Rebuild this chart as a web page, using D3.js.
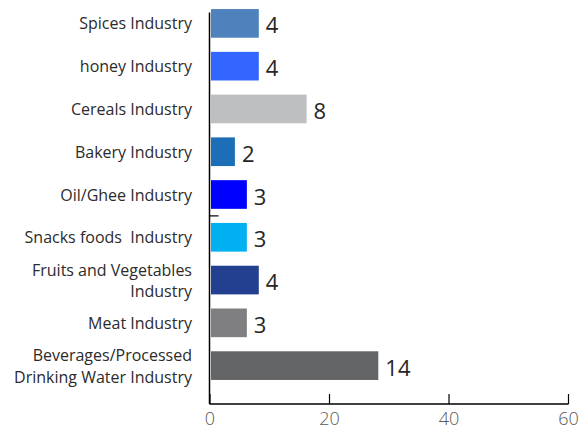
<!DOCTYPE html>
<html>
<head>
<meta charset="utf-8">
<script src="https://cdn.jsdelivr.net/npm/d3@7"></script>
<style>
  html, body { margin: 0; padding: 0; background: #fff; }
  svg { display: block; font-family: "Open Sans", "Noto Sans", sans-serif; }
</style>
</head>
<body>
<svg id="chart" width="581" height="430"></svg>
<script>
// Industries (top to bottom), each label may wrap onto two lines
const categories = [
  ["Spices Industry"],
  ["honey Industry"],
  ["Cereals Industry"],
  ["Bakery Industry"],
  ["Oil/Ghee Industry"],
  ["Snacks foods  Industry"],
  ["Fruits and Vegetables", "Industry"],
  ["Meat Industry"],
  ["Beverages/Processed", "Drinking Water Industry"]
];
// Number of units per industry (shown beside each bar)
const counts = [4, 4, 8, 2, 3, 3, 4, 3, 14];
// Bar fill per industry
const colors = ["#4f81bd", "#3366ff", "#bebfc1", "#1c6fb7", "#0000ff",
                "#00b0f0", "#233f8f", "#7f7f82", "#636466"];
// Bars are plotted as a share (%) of the surveyed total
const surveyTotal = 50;
const xTicks = [0, 20, 40, 60];

const svg = d3.select("#chart");
const plot = { left: 209.5, right: 568, top: 12.5, bottom: 404 };

const keys = categories.map(c => c.join(" "));
const x = d3.scaleLinear().domain([0, 60]).range([plot.left, plot.right]);
const y = d3.scaleBand().domain(keys).range([2, 387]).paddingInner(0.33).paddingOuter(0.165);

const data = keys.map((k, i) => ({
  key: k, lines: categories[i], count: counts[i],
  pct: counts[i] / surveyTotal * 100, color: colors[i]
}));

// bars
svg.append("g").selectAll("rect").data(data).join("rect")
  .attr("x", x(0) + 1.5)
  .attr("y", d => y(d.key))
  .attr("width", d => x(d.pct) - x(0))
  .attr("height", y.bandwidth())
  .attr("fill", d => d.color);

// value labels
svg.append("g").selectAll("text").data(data).join("text")
  .attr("x", d => x(d.pct) + 8.5)
  .attr("y", d => y(d.key) + y.bandwidth() / 2 + 10)
  .attr("font-size", 22)
  .attr("fill", "#262626")
  .text(d => d.count);

// category labels
const lab = svg.append("g").selectAll("text").data(data).join("text")
  .attr("text-anchor", "end")
  .attr("font-size", 16)
  .attr("fill", "#2b2b2b")
  .style("white-space", "pre")
  .attr("y", d => y(d.key) + y.bandwidth() / 2 + 6 - (d.lines.length - 1) * 10.5);
lab.selectAll("tspan").data(d => d.lines).join("tspan")
  .attr("x", 192)
  .attr("dy", (d, i) => i === 0 ? 0 : 21.5)
  .style("white-space", "pre")
  .text(d => d);

// x axis with inward ticks
const xAxis = svg.append("g").attr("transform", `translate(0,${plot.bottom})`)
  .call(d3.axisBottom(x).tickValues(xTicks).tickSize(-10).tickPadding(10));
xAxis.select(".domain").remove();
xAxis.selectAll(".tick line").attr("stroke", "#000").attr("stroke-width", 1.2);
xAxis.selectAll(".tick text").attr("font-size", 18).attr("fill", "#595959")
  .attr("font-family", "Open Sans, sans-serif").attr("font-weight", 300)
  .attr("dy", "0.6em");

// axis lines
svg.append("line").attr("x1", plot.left).attr("x2", plot.left)
  .attr("y1", plot.top).attr("y2", plot.bottom)
  .attr("stroke", "#000").attr("stroke-width", 1.5);
svg.append("line").attr("x1", plot.left).attr("x2", plot.right + 0.5)
  .attr("y1", plot.bottom).attr("y2", plot.bottom)
  .attr("stroke", "#000").attr("stroke-width", 1.5);

// single y tick between the Oil/Ghee and Snacks bands
const gap = y.step() * y.paddingInner() / 2;
const tickY = y(keys[5]) - gap;
svg.append("line").attr("x1", plot.left).attr("x2", plot.left + 9)
  .attr("y1", tickY).attr("y2", tickY)
  .attr("stroke", "#000").attr("stroke-width", 1.2);
</script>
</body>
</html>
